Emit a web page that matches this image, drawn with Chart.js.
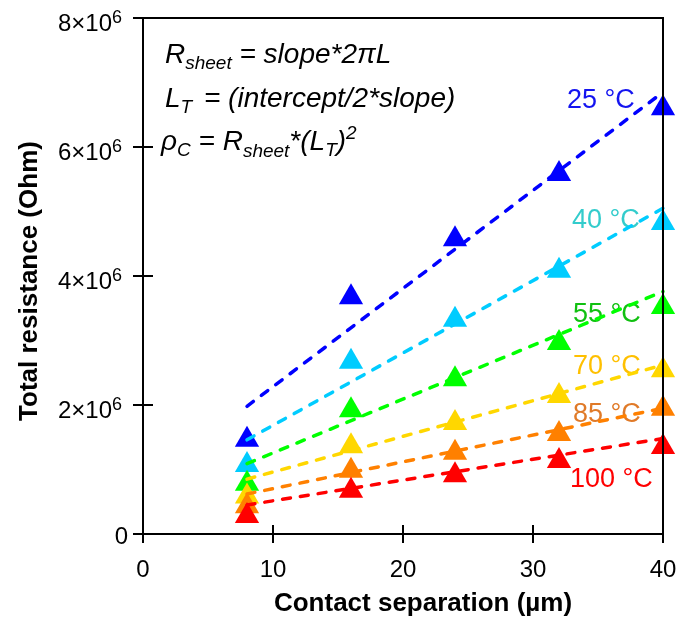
<!DOCTYPE html>
<html>
<head>
<meta charset="utf-8">
<script src="https://cdn.jsdelivr.net/npm/chart.js@4"></script>
<style>
  body { margin: 0; background: #fff; }
  canvas { display: block; }
</style>
</head>
<body>
<canvas id="tlmChart" width="679" height="625"></canvas>
<script>
// contact separation (um)
const separation = [8, 16, 24, 32, 40];
const tempLabels = ['25 °C', '40 °C', '55 °C', '70 °C', '85 °C', '100 °C'];

const r25  = [1.46e6, 3.67e6, 4.57e6, 5.58e6, 6.60e6];
const r40  = [1.07e6, 2.67e6, 3.32e6, 4.08e6, 4.82e6];
const r55  = [0.78e6, 1.92e6, 2.40e6, 2.96e6, 3.52e6];
const r70  = [0.58e6, 1.36e6, 1.72e6, 2.14e6, 2.54e6];
const r85  = [0.43e6, 0.98e6, 1.26e6, 1.55e6, 1.94e6];
const r100 = [0.28e6, 0.67e6, 0.91e6, 1.13e6, 1.35e6];

// linear fits, drawn from x=8 to x=40
const fitX = [8, 40];
const fit25  = [1.98e6, 6.85e6];
const fit40  = [1.46e6, 5.05e6];
const fit55  = [1.09e6, 3.76e6];
const fit70  = [0.85e6, 2.62e6];
const fit85  = [0.62e6, 1.95e6];
const fit100 = [0.45e6, 1.48e6];

const xTicks = [0, 10, 20, 30, 40];
const yTicks = [0, 2e6, 4e6, 6e6, 8e6];
const yTickText = ['0', '2×10', '4×10', '6×10', '8×10'];

const markerColors = ['#0000FF', '#00CCFF', '#00FF00', '#FFD700', '#FF8000', '#FF0000'];
const labelColors  = ['#1414F0', '#33CCCC', '#11C011', '#FFC000', '#E07A28', '#FF0000'];

const measured = [r25, r40, r55, r70, r85, r100];
const fits = [fit25, fit40, fit55, fit70, fit85, fit100];

const FONT = '"Liberation Sans", Arial, sans-serif';

const datasets = [];
measured.forEach((vals, i) => {
  datasets.push({
    label: tempLabels[i],
    data: separation.map((x, k) => ({ x, y: vals[k] })),
    pointStyle: 'triangle',
    pointRadius: 14,
    pointHoverRadius: 14,
    pointBackgroundColor: markerColors[i],
    pointBorderColor: markerColors[i],
    pointBorderWidth: 0,
    showLine: false,
    clip: false,
    order: 20 - i
  });
});
fits.forEach((vals, i) => {
  datasets.push({
    label: tempLabels[i] + ' fit',
    data: fitX.map((x, k) => ({ x, y: vals[k] })),
    showLine: true,
    borderColor: markerColors[i],
    borderWidth: 3.5,
    borderDash: [8, 10],
    borderCapStyle: 'round',
    pointRadius: 0,
    clip: false,
    order: 10 - i
  });
});

function drawRich(ctx, x, y, parts) {
  parts.forEach(p => {
    if (p.gap) { x += p.gap; return; }
    const size = p.s || 28;
    ctx.font = `italic ${size}px ${FONT}`;
    ctx.fillText(p.t, x, y + (p.dy || 0));
    x += ctx.measureText(p.t).width;
  });
}

const decor = {
  id: 'decor',
  beforeDatasetsDraw(chart) {
    const ctx = chart.ctx;
    ctx.save();
    ctx.fillStyle = '#000';
    ctx.textBaseline = 'alphabetic';
    ctx.textAlign = 'left';
    drawRich(ctx, 165, 63, [
      { t: 'R' }, { t: 'sheet', s: 19, dy: 6 }, { t: ' = slope*2πL' }
    ]);
    drawRich(ctx, 165, 107, [
      { t: 'L' }, { t: 'T', s: 19, dy: 6 }, { gap: 4 }, { t: ' = (intercept/2*slope)' }
    ]);
    drawRich(ctx, 161, 150, [
      { t: 'ρ' }, { t: 'C', s: 19, dy: 6 }, { t: ' = R' }, { t: 'sheet', s: 19, dy: 7 },
      { t: '*(L' }, { t: 'T', s: 19, dy: 6 }, { t: ')' }, { t: '2', s: 19, dy: -11 }
    ]);

    const labelPos = [[567, 108], [572, 228], [573, 322], [573, 374], [573, 422], [570, 487]];
    ctx.font = `27px ${FONT}`;
    tempLabels.forEach((t, i) => {
      ctx.fillStyle = labelColors[i];
      ctx.fillText(t, labelPos[i][0], labelPos[i][1]);
    });
    ctx.restore();
  },
  afterDatasetsDraw(chart) {
    const { ctx, chartArea: a, scales } = chart;
    ctx.save();
    ctx.strokeStyle = '#000';
    ctx.lineWidth = 2;
    ctx.strokeRect(a.left, a.top, a.right - a.left, a.bottom - a.top);
    ctx.beginPath();
    xTicks.forEach(v => {
      const px = Math.round(scales.x.getPixelForValue(v));
      ctx.moveTo(px, a.bottom - 9);
      ctx.lineTo(px, a.bottom + 9);
    });
    yTicks.forEach(v => {
      const py = Math.round(scales.y.getPixelForValue(v));
      ctx.moveTo(a.left - 10, py);
      ctx.lineTo(a.left + 10, py);
    });
    ctx.stroke();

    // y tick labels with superscript exponent
    ctx.fillStyle = '#000';
    ctx.textBaseline = 'alphabetic';
    yTicks.forEach((v, i) => {
      const py = scales.y.getPixelForValue(v);
      const right = 122;
      if (i === 0) {
        ctx.font = `24px ${FONT}`;
        ctx.textAlign = 'right';
        ctx.fillText(yTickText[i], 128, py + 10);
        return;
      }
      ctx.font = `18px ${FONT}`;
      ctx.textAlign = 'right';
      ctx.fillText('6', right, py + 5);
      const supW = ctx.measureText('6').width;
      ctx.font = `24px ${FONT}`;
      ctx.fillText(yTickText[i], right - supW, py + 13);
    });

    // axis titles
    ctx.font = `bold 26px ${FONT}`;
    ctx.textAlign = 'center';
    ctx.textBaseline = 'middle';
    ctx.fillText('Contact separation (µm)', 423, 604);
    ctx.save();
    ctx.translate(30, 281);
    ctx.rotate(-Math.PI / 2);
    ctx.fillText('Total resistance (Ohm)', 0, 0);
    ctx.restore();
    ctx.restore();
  }
};

new Chart(document.getElementById('tlmChart'), {
  type: 'scatter',
  data: { datasets },
  options: {
    responsive: false,
    animation: false,
    layout: { padding: { top: 18, right: 16, left: 0, bottom: 0 } },
    plugins: { legend: { display: false }, tooltip: { enabled: false } },
    scales: {
      x: {
        type: 'linear',
        min: 0, max: 40,
        afterBuildTicks: s => { s.ticks = xTicks.map(v => ({ value: v })); },
        afterFit: s => { s.height = 91; s.paddingLeft = 0; s.paddingRight = 0; },
        grid: { display: false, drawTicks: false },
        border: { display: false },
        ticks: { color: '#000', font: { family: FONT, size: 24 }, padding: 22, maxRotation: 0 }
      },
      y: {
        type: 'linear',
        min: 0, max: 8e6,
        afterBuildTicks: s => { s.ticks = yTicks.map(v => ({ value: v })); },
        afterFit: s => { s.width = 143; s.paddingTop = 0; s.paddingBottom = 0; },
        grid: { display: false, drawTicks: false },
        border: { display: false },
        ticks: { display: false }
      }
    }
  },
  plugins: [decor]
});
</script>
</body>
</html>
